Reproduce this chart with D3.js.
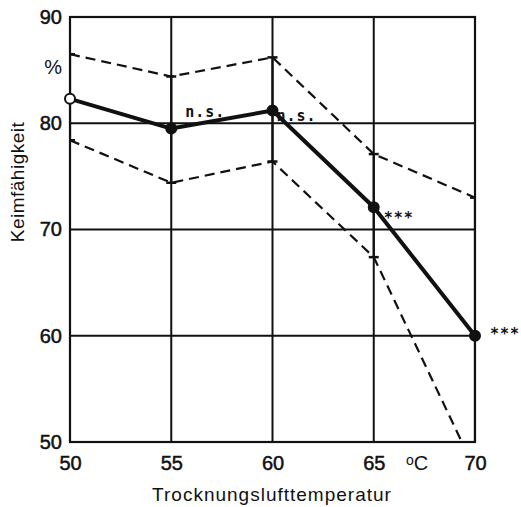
<!DOCTYPE html>
<html>
<head>
<meta charset="utf-8">
<script src="https://cdn.jsdelivr.net/npm/d3@7"></script>
<style>
  body { margin: 0; background: #fff; }
  text { font-family: "Liberation Sans", Arial, sans-serif; fill: #111; }
</style>
</head>
<body>
<div id="chart"></div>
<script>
// Trocknungslufttemperatur (°C) vs. Keimfähigkeit (%)
var temps = [50, 55, 60, 65, 70];
var mean = [82.3, 79.5, 81.2, 72.1, 60.0];
var upper = [86.5, 84.4, 86.2, 77.1, 73.0];
var lower = [78.4, 74.4, 76.4, 67.4, 47.4];
var signif = ["", "n.s.", "n.s.", "***", "***"];
var xTicks = [50, 55, 60, 65, 70];
var yTicks = [50, 60, 70, 80, 90];

var width = 521, height = 507;

var svg = d3.select("#chart").append("svg")
    .attr("width", width)
    .attr("height", height);

var x = d3.scaleLinear().domain([50, 70]).range([70, 475]);
var y = d3.scaleLinear().domain([50, 90]).range([442, 17]);

svg.append("clipPath").attr("id", "plot")
    .append("rect")
    .attr("x", x(50)).attr("y", y(90))
    .attr("width", x(70) - x(50)).attr("height", y(50) - y(90));

// grid
svg.append("g").selectAll("line")
    .data(xTicks.slice(1, -1))
    .enter().append("line")
    .attr("x1", d => x(d)).attr("x2", d => x(d))
    .attr("y1", y(90)).attr("y2", y(50))
    .attr("stroke", "#111").attr("stroke-width", 2);

svg.append("g").selectAll("line")
    .data(yTicks.slice(1, -1))
    .enter().append("line")
    .attr("x1", x(50)).attr("x2", x(70))
    .attr("y1", d => y(d)).attr("y2", d => y(d))
    .attr("stroke", "#111").attr("stroke-width", 2);

// frame
svg.append("rect")
    .attr("x", x(50)).attr("y", y(90))
    .attr("width", x(70) - x(50)).attr("height", y(50) - y(90))
    .attr("fill", "none").attr("stroke", "#111").attr("stroke-width", 2.2);

// axes (labels only)
var xAxis = svg.append("g")
    .attr("transform", "translate(0," + y(50) + ")")
    .call(d3.axisBottom(x).tickValues(xTicks).tickSize(0).tickPadding(14));
xAxis.select(".domain").remove();
xAxis.selectAll("text")
    .attr("font-size", 20)
    .attr("fill", "#111").attr("stroke", "#111").attr("stroke-width", 0.5);

var yAxis = svg.append("g")
    .attr("transform", "translate(" + x(50) + ",0)")
    .call(d3.axisLeft(y).tickValues(yTicks).tickSize(0).tickPadding(8));
yAxis.select(".domain").remove();
yAxis.selectAll("text")
    .attr("font-size", 20)
    .attr("fill", "#111").attr("stroke", "#111").attr("stroke-width", 0.5);

svg.append("text")
    .attr("x", x(50) - 8).attr("y", 74)
    .attr("text-anchor", "end")
    .attr("font-size", 20)
    .text("%");

var unit = svg.append("text")
    .attr("x", 406).attr("y", y(50) + 28)
    .attr("font-size", 20);
unit.append("tspan").attr("font-size", 14).attr("dy", -5).text("o");
unit.append("tspan").attr("dy", 5).text("C");

svg.append("text")
    .attr("x", 272).attr("y", 501)
    .attr("text-anchor", "middle")
    .attr("font-size", 19)
    .attr("letter-spacing", 1)
    .text("Trocknungslufttemperatur");

svg.append("text")
    .attr("transform", "translate(24,182) rotate(-90)")
    .attr("text-anchor", "middle")
    .attr("font-size", 19)
    .attr("letter-spacing", 0.5)
    .text("Keimfähigkeit");

var plot = svg.append("g").attr("clip-path", "url(#plot)");

// error bars
var bars = plot.append("g").selectAll("g")
    .data(temps)
    .enter().append("g");
bars.append("line")
    .attr("x1", d => x(d)).attr("x2", d => x(d))
    .attr("y1", (d, i) => y(upper[i])).attr("y2", (d, i) => y(lower[i]))
    .attr("stroke", "#111").attr("stroke-width", 2.2);
bars.append("line")
    .attr("x1", d => x(d) - 5).attr("x2", d => x(d) + 5)
    .attr("y1", (d, i) => y(upper[i])).attr("y2", (d, i) => y(upper[i]))
    .attr("stroke", "#111").attr("stroke-width", 2.5);
bars.append("line")
    .attr("x1", d => x(d) - 5).attr("x2", d => x(d) + 5)
    .attr("y1", (d, i) => y(lower[i])).attr("y2", (d, i) => y(lower[i]))
    .attr("stroke", "#111").attr("stroke-width", 2.5);

// dashed bounds
var line = d3.line().x(d => x(d[0])).y(d => y(d[1]));
[upper, lower].forEach(vals => {
    plot.append("path")
        .datum(temps.map((t, i) => [t, vals[i]]))
        .attr("d", line)
        .attr("fill", "none")
        .attr("stroke", "#111")
        .attr("stroke-width", 2.2)
        .attr("stroke-dasharray", "10,6");
});

// mean line
svg.append("path")
    .datum(temps.map((t, i) => [t, mean[i]]))
    .attr("d", line)
    .attr("fill", "none")
    .attr("stroke", "#111")
    .attr("stroke-width", 4)
    .attr("stroke-linejoin", "round");

svg.append("g").selectAll("circle")
    .data(temps)
    .enter().append("circle")
    .attr("cx", d => x(d))
    .attr("cy", (d, i) => y(mean[i]))
    .attr("r", 5)
    .attr("fill", (d, i) => i === 0 ? "#fff" : "#111")
    .attr("stroke", "#111")
    .attr("stroke-width", 2);

// significance labels (typewriter style)
var dxs = [0, 14, 4, 10, 15];
var dys = [0, -12, 10, 16, 3];
svg.append("g").selectAll("text")
    .data(temps)
    .enter().append("text")
    .attr("x", (d, i) => x(d) + dxs[i])
    .attr("y", (d, i) => y(mean[i]) + dys[i])
    .style("font-family", "'DejaVu Sans Mono', monospace")
    .style("font-weight", "bold")
    .attr("font-size", 15)
    .attr("letter-spacing", 1)
    .text((d, i) => signif[i]);
</script>
</body>
</html>
